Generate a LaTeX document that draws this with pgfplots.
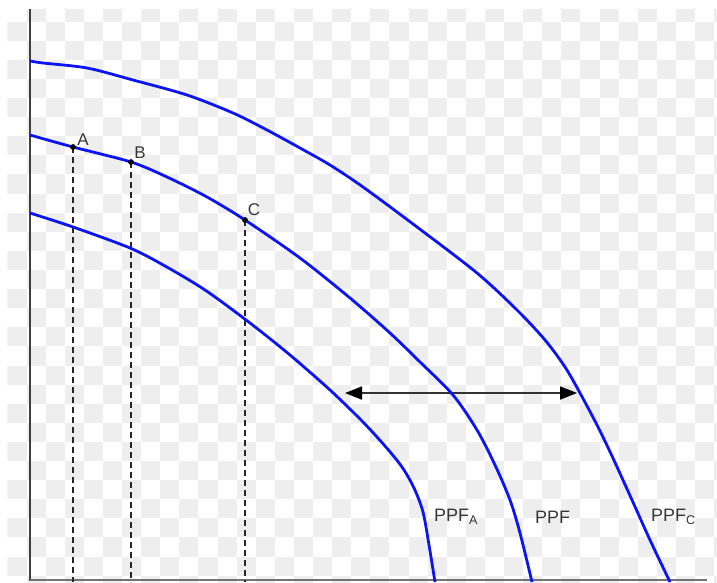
\documentclass[border=0pt]{standalone}
\usepackage{fontspec}
\setmainfont{Liberation Sans}
\usepackage{pgfplots}
\pgfplotsset{compat=1.18}
\usetikzlibrary{arrows.meta}
\definecolor{ppfblue}{RGB}{10,20,245}
\definecolor{chk}{RGB}{238,238,238}
\definecolor{lbl}{RGB}{55,55,55}

\begin{document}
\begin{tikzpicture}
\useasboundingbox (0,0) rectangle (717pt,582pt);
% checkerboard background
\begin{scope}[x=1pt, y=1pt]
\clip (7.3,0) rectangle (717,572.7);
\foreach \i in {0,...,30}{
  \foreach \j in {0,...,37}{
    \pgfmathparse{int(mod(\i+\j,2))}
    \ifnum\pgfmathresult=1
      \fill[chk] ({26.5+19.1*(\j-1)},{582-21.7-19.1*\i}) rectangle ++(19.1,19.1);
    \fi
  }
}
\end{scope}
\begin{axis}[
  at={(0,0)}, anchor=south west,
  scale only axis,
  width=717pt, height=582pt,
  xmin=0, xmax=717, ymin=0, ymax=582,
  y dir=reverse,
  hide axis,
  clip=false,
]
% axes
\draw[black!75, line width=2.2pt] (axis cs:30,9) -- (axis cs:30,581);
\draw[black!55, line width=1.4pt] (axis cs:30,580) -- (axis cs:707,580);

% drop lines
\addplot[black!85, line width=1.6pt, dash pattern=on 6pt off 4pt] coordinates {(73,147) (73,582)};
\addplot[black!85, line width=1.6pt, dash pattern=on 6pt off 4pt] coordinates {(131,162) (131,582)};
\addplot[black!85, line width=1.6pt, dash pattern=on 6pt off 4pt] coordinates {(245,220) (245,582)};

% shift arrow
\addplot[black!80, line width=1.8pt,
  {Triangle[length=17pt,width=13pt,black]}-{Triangle[length=17pt,width=13pt,black]}]
  coordinates {(345,393) (577,393)};

% PPF_C
\addplot[ppfblue, line width=2.8pt, smooth, tension=0.5] coordinates {
  (30,61) (43,63) (87,68) (133,80) (187,95) (233,113) (267,130) (300,148)
  (330,165) (363,187) (417,227) (477,273) (517,310) (545,340) (565,367)
  (580,393) (597,425) (612,456) (632,500) (650,540) (670,582)
};
% PPF
\addplot[ppfblue, line width=2.8pt, smooth, tension=0.5] coordinates {
  (30,135) (73,147) (131,162) (167,177) (207,197) (245,220) (300,258)
  (350,298) (390,333) (420,362) (453,395) (477,430) (495,465) (510,500)
  (520,533) (532,582)
};
% PPF_A
\addplot[ppfblue, line width=2.8pt, smooth, tension=0.5] coordinates {
  (30,213) (73,227) (130,248) (165,266) (205,290) (250,323) (290,355)
  (330,390) (362,421) (385,446) (402,467) (414,488) (423,512) (429,545)
  (435,582)
};

% points A, B, C
\addplot[only marks, mark=*, mark size=2.6pt, black] coordinates {(73,147) (131,162) (245,220)};

\node[lbl, font=\fontsize{17}{19}\selectfont] at (axis cs:83,140) {A};
\node[lbl, font=\fontsize{17}{19}\selectfont] at (axis cs:140,153) {B};
\node[lbl, font=\fontsize{17}{19}\selectfont] at (axis cs:254,210) {C};

\node[lbl, anchor=west, inner sep=0pt, font=\fontsize{18}{20}\selectfont] at (axis cs:434,517) {PPF\textsubscript{A}};
\node[lbl, anchor=west, inner sep=0pt, font=\fontsize{18}{20}\selectfont] at (axis cs:535,517) {PPF};
\node[lbl, anchor=west, inner sep=0pt, font=\fontsize{18}{20}\selectfont] at (axis cs:651,517) {PPF\textsubscript{C}};
\end{axis}
\end{tikzpicture}
\end{document}
